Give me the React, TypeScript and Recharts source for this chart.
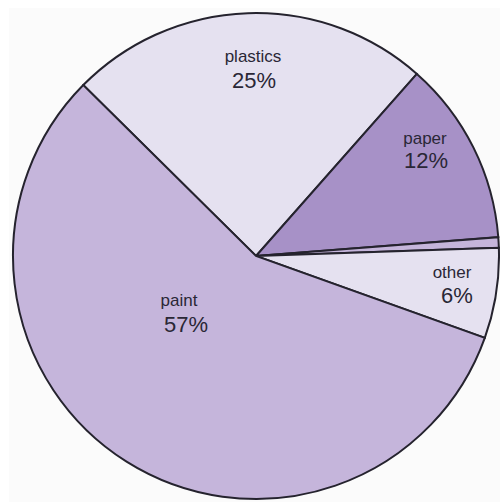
import React from 'react';
import { PieChart, Pie, Cell } from 'recharts';

const CATEGORIES = ['plastics', 'paper', 'minor', 'other', 'paint'];
const VALUES = [24.1, 12.25, 0.7, 6.0, 56.95];
const PERCENT_LABELS = ['25%', '12%', '', '6%', '57%'];
const SHOW_LABEL = [true, true, false, true, true];

const COLORS = ['#e5e1f0', '#a791c7', '#c5b5db', '#e5e1f0', '#c5b5db'];
// label anchor offsets (name baseline) relative to pie centre
const LABEL_OFFSETS: [number, number][] = [
  [-3, -194],
  [169, -112],
  [0, 0],
  [196, 22],
  [-77, 50],
];
const PCT_OFFSETS: [number, number][] = [
  [1, 26],
  [1, 24],
  [0, 0],
  [5, 25],
  [7, 26],
];

const data = CATEGORIES.map((name, i) => ({ name, value: VALUES[i], pct: PERCENT_LABELS[i] }));

const renderLabel = (props: any) => {
  const { cx, cy, index } = props;
  if (!SHOW_LABEL[index]) return null;
  const [dx, dy] = LABEL_OFFSETS[index];
  const [px, py] = PCT_OFFSETS[index];
  const x = cx + dx;
  const y = cy + dy;
  return (
    <g key={`lbl-${index}`}>
      <text x={x} y={y} textAnchor="middle" fontSize={17} fill="#2a2736" fontFamily="'Liberation Sans', Arial, sans-serif">
        {CATEGORIES[index]}
      </text>
      <text x={x + px} y={y + py} textAnchor="middle" fontSize={22} fill="#2a2736" fontFamily="'Liberation Sans', Arial, sans-serif">
        {PERCENT_LABELS[index]}
      </text>
    </g>
  );
};

export default function App() {
  return (
    <div style={{ position: 'absolute', left: 0, top: 0, width: 500, height: 502, background: '#ffffff' }}>
      <div style={{ position: 'absolute', left: 9, top: 8, width: 491, height: 494, background: '#fbfbfb' }} />
      <div style={{ position: 'absolute', left: 0, top: 0 }}>
        <PieChart width={500} height={502} margin={{ top: 0, right: 0, bottom: 0, left: 0 }}>
          <Pie
            data={data}
            dataKey="value"
            nameKey="name"
            cx={256}
            cy={256}
            outerRadius={243}
            startAngle={135.3}
            endAngle={-224.7}
            stroke="#25232e"
            strokeWidth={2}
            label={renderLabel}
            labelLine={false}
            isAnimationActive={false}
          >
            {data.map((d, i) => (
              <Cell key={d.name} fill={COLORS[i]} />
            ))}
          </Pie>
        </PieChart>
      </div>
    </div>
  );
}
